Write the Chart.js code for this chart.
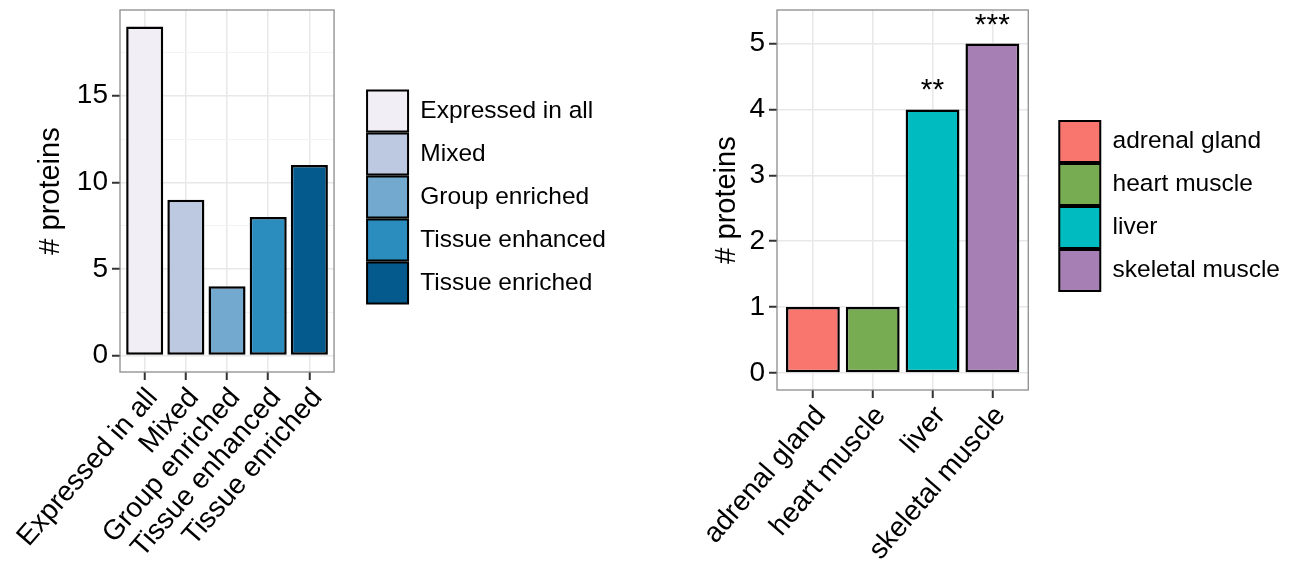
<!DOCTYPE html>
<html>
<head>
<meta charset="utf-8">
<script src="https://cdn.jsdelivr.net/npm/chart.js@4.4.0/dist/chart.umd.min.js"></script>
<style>
  body { margin: 0; background: #fff; }
  #wrap { position: relative; width: 1295px; height: 569px; }
  .box { position: absolute; top: 0; height: 569px; }
</style>
</head>
<body>
<div id="wrap">
  <div class="box" style="left:0;width:616px"><canvas id="left"></canvas></div>
  <div class="box" style="left:655px;width:635px"><canvas id="right"></canvas></div>
</div>
<script>
// left panel: expression classes
const classCategories = ['Expressed in all', 'Mixed', 'Group enriched', 'Tissue enhanced', 'Tissue enriched'];
const classCounts = [19, 9, 4, 8, 11];
const classColors = ['#f1eef6', '#bdc9e1', '#74a9cf', '#2b8cbe', '#045a8d'];
const classTicks = [0, 5, 10, 15];

// right panel: tissues
const tissueCategories = ['adrenal gland', 'heart muscle', 'liver', 'skeletal muscle'];
const tissueCounts = [1, 1, 4, 5];
const tissueStars = ['', '', '**', '***'];
const tissueColors = ['#f8766d', '#78ac52', '#00bcc0', '#a680b5'];
const tissueTicks = [0, 1, 2, 3, 4, 5];

const FONT = "'Liberation Sans', Arial, Helvetica, sans-serif";

// grey box round the plot panel, like theme_bw
const panelBorder = {
    id: 'panelBorder',
    afterDatasetsDraw(chart) {
        const { ctx, chartArea: a } = chart;
        ctx.save();
        ctx.strokeStyle = '#8c8c8c';
        ctx.lineWidth = 1.3;
        ctx.strokeRect(a.left, a.top, a.right - a.left, a.bottom - a.top);
        ctx.restore();
    }
};

// significance stars above bars
const starLabels = {
    id: 'starLabels',
    afterDatasetsDraw(chart, args, opts) {
        if (!opts.labels) return;
        const { ctx } = chart;
        const meta = chart.getDatasetMeta(0);
        ctx.save();
        ctx.font = `30px ${FONT}`;
        ctx.fillStyle = '#000';
        ctx.textAlign = 'center';
        ctx.textBaseline = 'alphabetic';
        opts.labels.forEach((s, i) => {
            if (!s) return;
            const bar = meta.data[i];
            ctx.fillText(s, bar.x, bar.y - 10);
        });
        ctx.restore();
    }
};

function makeChart(id, cats, counts, colors, majors, cfg) {
    const step = majors[1] - majors[0];
    const minors = majors.map(v => v + step / 2).filter(v => v < cfg.yMax);
    const yTicks = majors.concat(minors).sort((a, b) => a - b);
    const isMajor = v => majors.includes(v);

    return new Chart(document.getElementById(id), {
        type: 'bar',
        data: {
            labels: cats.map((c, i) => i),
            datasets: [{
                data: counts,
                backgroundColor: colors,
                borderColor: '#000',
                borderWidth: 2.5,
                borderSkipped: false,
                categoryPercentage: 0.9,
                barPercentage: 1
            }]
        },
        plugins: [panelBorder, starLabels],
        options: {
            responsive: true,
            maintainAspectRatio: false,
            animation: false,
            layout: { padding: { top: 10, left: 0, right: 0, bottom: 0 } },
            scales: {
                x: {
                    type: 'linear',
                    min: -0.6,
                    max: cats.length - 0.4,
                    offset: false,
                    afterBuildTicks: axis => { axis.ticks = cats.map((c, i) => ({ value: i })); },
                    afterFit: axis => {
                        axis.height = cfg.xAxisH;
                        axis.paddingLeft = 0;
                        axis.paddingRight = 0;
                    },
                    grid: {
                        offset: false,
                        color: '#e8e8e8',
                        lineWidth: 1.5,
                        tickColor: '#333',
                        tickWidth: 2,
                        tickLength: 8
                    },
                    border: { display: false },
                    ticks: {
                        autoSkip: false,
                        maxRotation: 49,
                        minRotation: 49,
                        padding: 2,
                        labelOffset: 8,
                        color: '#000',
                        font: { family: FONT, size: 28 },
                        callback: v => cats[v]
                    }
                },
                y: {
                    min: cfg.yMin,
                    max: cfg.yMax,
                    afterBuildTicks: axis => { axis.ticks = yTicks.map(v => ({ value: v })); },
                    afterFit: axis => {
                        axis.width = cfg.yAxisW;
                        axis.paddingTop = 0;
                        axis.paddingBottom = 0;
                    },
                    grid: {
                        color: c => isMajor(c.tick.value) ? '#e8e8e8' : '#f3f3f3',
                        lineWidth: c => isMajor(c.tick.value) ? 1.5 : 1,
                        tickColor: c => isMajor(c.tick.value) ? '#333' : 'rgba(0,0,0,0)',
                        tickWidth: 2,
                        tickLength: 8
                    },
                    border: { display: false },
                    ticks: {
                        padding: 4,
                        color: '#000',
                        font: { family: FONT, size: 28 },
                        callback: v => isMajor(v) ? String(v) : ''
                    },
                    title: {
                        display: true,
                        text: '# proteins',
                        color: '#000',
                        font: { family: FONT, size: 29 },
                        padding: { top: cfg.titlePad, bottom: 4 }
                    }
                },
                // empty axis that only keeps the legend away from the panel
                gap: {
                    type: 'linear',
                    position: 'right',
                    display: true,
                    grid: { display: false },
                    ticks: { display: false },
                    border: { display: false },
                    afterFit: axis => { axis.width = cfg.gapW; }
                }
            },
            plugins: {
                tooltip: { enabled: false },
                starLabels: { labels: cfg.stars },
                legend: {
                    position: 'right',
                    align: 'center',
                    fullSize: false,
                    maxWidth: 400,
                    onClick: () => {},
                    // blank title, only nudges the keys down a little
                    title: { display: true, text: '', font: { size: 5 }, padding: { top: 6, bottom: 0 } },
                    labels: {
                        boxWidth: 41,
                        boxHeight: 41,
                        padding: 2,
                        color: '#000',
                        font: { family: FONT, size: 24.5 },
                        generateLabels: () => cats.map((c, i) => ({
                            text: c,
                            fillStyle: colors[i],
                            strokeStyle: '#000',
                            fontColor: '#000',
                            lineWidth: 2,
                            hidden: false,
                            index: i
                        }))
                    }
                }
            }
        }
    });
}

makeChart('left', classCategories, classCounts, classColors, classTicks,
    { yMin: -0.95, yMax: 19.95, yAxisW: 120, xAxisH: 197, gapW: 31, titlePad: 34, stars: null });
makeChart('right', tissueCategories, tissueCounts, tissueColors, tissueTicks,
    { yMin: -0.26, yMax: 5.51, yAxisW: 122, xAxisH: 179, gapW: 29, titlePad: 55, stars: tissueStars });
</script>
</body>
</html>
